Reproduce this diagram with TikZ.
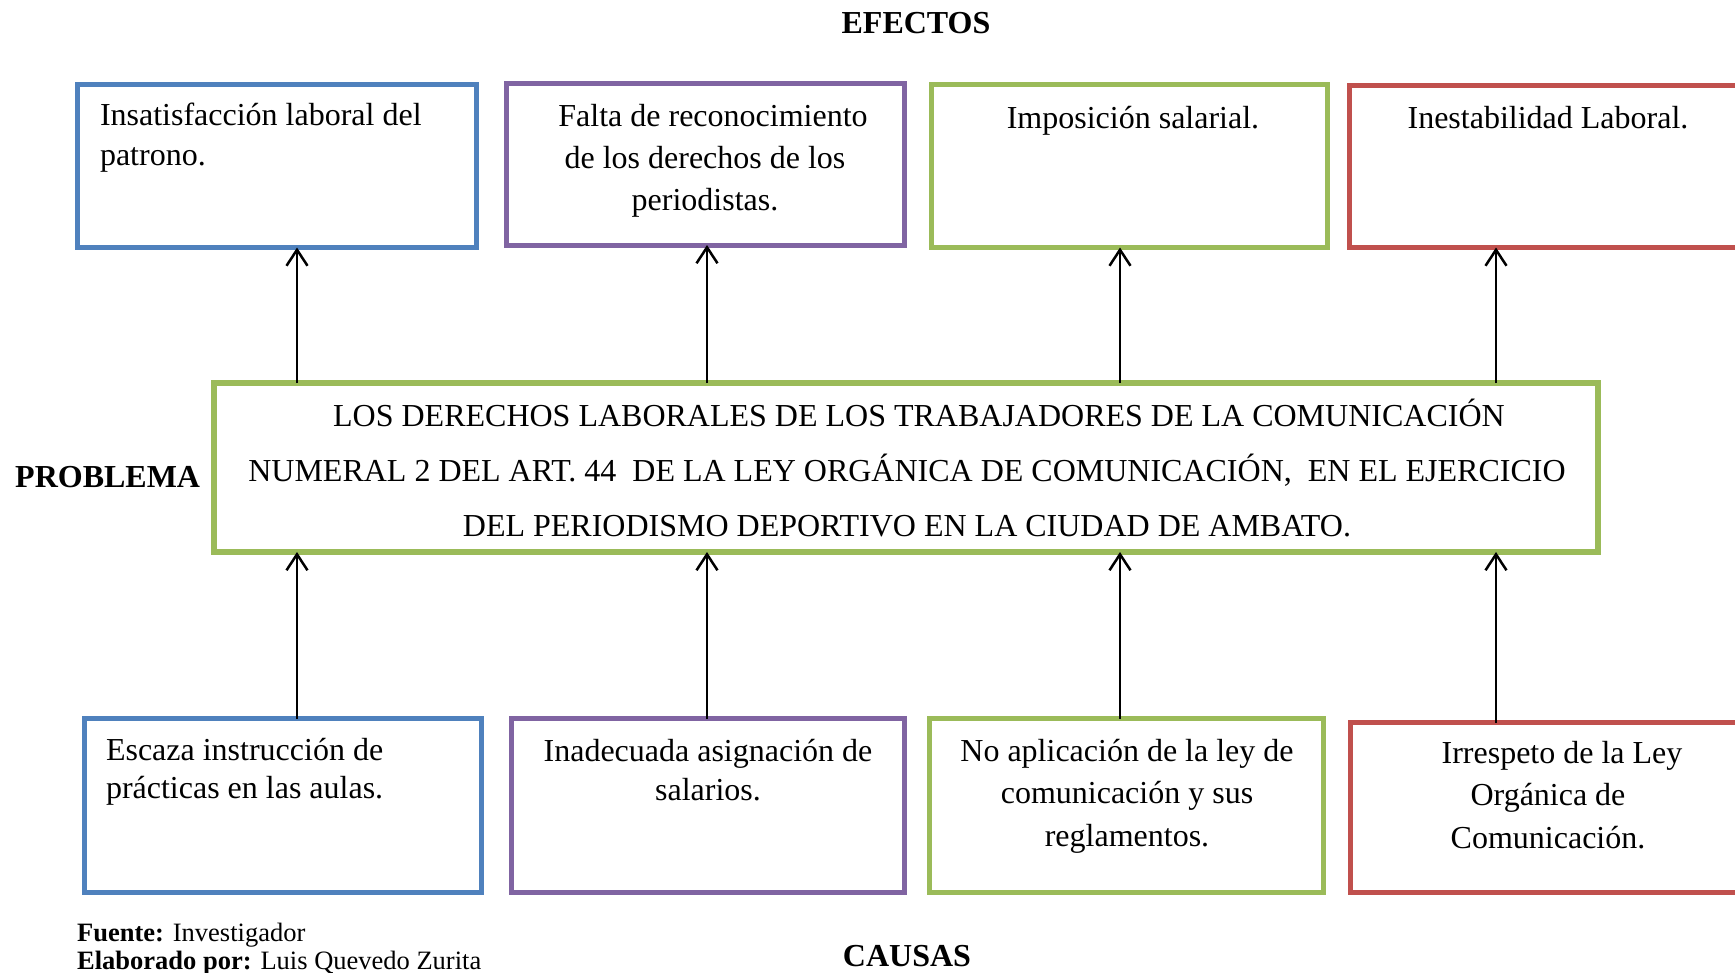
\documentclass[tikz,border=0pt]{standalone}
\usepackage{fontspec}
\setmainfont{Liberation Serif}
\usetikzlibrary{arrows.meta}
\definecolor{cblue}{HTML}{4F81BD}
\definecolor{cpurple}{HTML}{8064A2}
\definecolor{cgreen}{HTML}{9BBB59}
\definecolor{cred}{HTML}{C0504D}
\newcommand{\fst}{\rule{0pt}{30pt}}
\begin{document}
\begin{tikzpicture}[x=1pt,y=-1pt,
  box/.style={draw,line width=5pt,inner sep=0pt,outer sep=0pt},
  txt/.style={inner sep=0pt,outer sep=0pt},
  head/.style={inner sep=0pt,font=\fontsize{32}{38}\selectfont\bfseries},
  note/.style={inner sep=0pt,anchor=base west,font=\fontsize{26.5}{28}\selectfont},
  arr/.style={line width=2.5pt,-{Straight Barb[length=16pt,width=21pt]}}]
\clip (0,0) rectangle (1735,972);
\fill[white] (0,0) rectangle (1735,972);

% effect boxes
\node[box,cblue,minimum width=399pt,minimum height=163pt] (t1) at (277,166) {};
\node[box,cpurple,minimum width=398pt,minimum height=162pt] (t2) at (705,164) {};
\node[box,cgreen,minimum width=396pt,minimum height=163pt] (t3) at (1129.5,166) {};
\node[box,cred,minimum width=410.5pt,minimum height=162pt] (t4) at (1554.75,166.5) {};

% problem box
\node[box,cgreen,line width=6.5pt,minimum width=1384pt,minimum height=169pt] (mid) at (906,467.5) {};

% cause boxes
\node[box,cblue,minimum width=397.5pt,minimum height=174pt] (b1) at (282.75,805.5) {};
\node[box,cpurple,minimum width=393pt,minimum height=174pt] (b2) at (708,805.5) {};
\node[box,cgreen,minimum width=394pt,minimum height=174pt] (b3) at (1126.5,805.5) {};
\node[box,cred,minimum width=409.5pt,minimum height=170pt] (b4) at (1555.25,807.5) {};

% texts
\node[txt,anchor=north west,align=left,font=\fontsize{32}{40}\selectfont] (t1t) at (100,95)
  {\fst Insatisfacción laboral del\\patrono.};
\node[txt,anchor=north,align=center,font=\fontsize{32}{42}\selectfont] (t2t) at (705,96)
  {\fst\hspace*{16pt}Falta de reconocimiento\\de los derechos de los\\periodistas.};
\node[txt,anchor=north,align=center,font=\fontsize{32}{42}\selectfont] (t3t) at (1133,98)
  {\fst Imposición salarial.};
\node[txt,anchor=north,align=center,font=\fontsize{32}{42}\selectfont] (t4t) at (1548,98)
  {\fst Inestabilidad Laboral.};
\node[txt,anchor=north,align=center,font=\fontsize{32}{55}\selectfont] (midt) at (907,396)
  {\fst\hspace*{24pt}LOS DERECHOS LABORALES DE LOS TRABAJADORES DE LA COMUNICACIÓN\\
   NUMERAL 2 DEL ART. 44\ \ DE LA LEY ORGÁNICA DE COMUNICACIÓN,\ \ EN EL EJERCICIO\\
   DEL PERIODISMO DEPORTIVO EN LA CIUDAD DE AMBATO.};
\node[txt,anchor=north west,align=left,font=\fontsize{32}{38.5}\selectfont] (b1t) at (106,730)
  {\fst Escaza instrucción de\\prácticas en las aulas.};
\node[txt,anchor=north,align=center,font=\fontsize{32}{39}\selectfont] (b2t) at (708,731)
  {\fst Inadecuada asignación de\\salarios.};
\node[txt,anchor=north,align=center,font=\fontsize{32}{42.5}\selectfont] (b3t) at (1127,731)
  {\fst No aplicación de la ley de\\comunicación y sus\\reglamentos.};
\node[txt,anchor=north,align=center,font=\fontsize{32}{42.5}\selectfont] (b4t) at (1548,733)
  {\fst\hspace*{28pt}Irrespeto de la Ley\\Orgánica de\\Comunicación.};

% headings
\node[head,anchor=base] (efe) at (916,33) {EFECTOS};
\node[head,anchor=base west] (pro) at (15,487) {PROBLEMA};
\node[head,anchor=base] (cau) at (907,966) {CAUSAS};
\node[note] (fue) at (77,941) {\textbf{Fuente:} Investigador};
\node[note] (ela) at (77,969) {\textbf{Elaborado por:} Luis Quevedo Zurita};

% arrows
\coordinate (x1) at (297,0);
\coordinate (x2) at (707,0);
\coordinate (x3) at (1120,0);
\coordinate (x4) at (1496,0);
\draw[arr] (mid.north -| x1) -- (t1.south -| x1);
\draw[arr] (mid.north -| x2) -- (t2.south -| x2);
\draw[arr] (mid.north -| x3) -- (t3.south -| x3);
\draw[arr] (mid.north -| x4) -- (t4.south -| x4);
\draw[arr] (b1.north -| x1) -- (mid.south -| x1);
\draw[arr] (b2.north -| x2) -- (mid.south -| x2);
\draw[arr] (b3.north -| x3) -- (mid.south -| x3);
\draw[arr] (b4.north -| x4) -- (mid.south -| x4);
\end{tikzpicture}
\end{document}
